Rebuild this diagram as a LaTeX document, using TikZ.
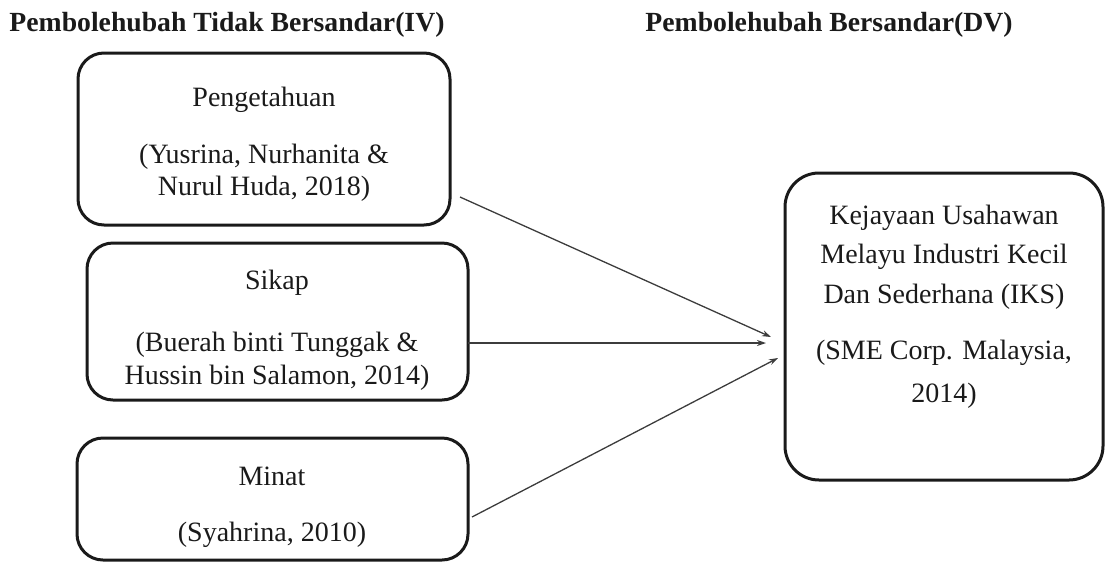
\documentclass[tikz,border=0pt]{standalone}
\usepackage{fontspec}
\setmainfont{Liberation Serif}
\usetikzlibrary{arrows.meta}
\definecolor{ink}{HTML}{1A1A1A}
\tikzset{
  box/.style={draw=ink, line width=3pt, rounded corners=26pt},
  txt/.style={inner sep=0pt, text=ink, font=\fontsize{28}{32}\selectfont},
  ttl/.style={inner sep=0pt, text=ink, font=\fontsize{27.7}{32}\selectfont\bfseries},
  conn/.style={draw=ink!85, line width=1.3pt, -{Stealth[length=9pt,width=6pt]}}
}
\begin{document}
\begin{tikzpicture}[x=1pt,y=-1pt]
\useasboundingbox (0,0) rectangle (1105,563);
% titles
\node[ttl] (t1) at (227,25) {Pembolehubah Tidak Bersandar(IV)};
\node[ttl] (t2) at (829,25) {Pembolehubah Bersandar(DV)};
% boxes
\draw[box] (78,53) rectangle (450,225);
\draw[box] (87,243) rectangle (468,400);
\coordinate (b2) at (468,343);
\draw[box] (77,438) rectangle (468,560);
\draw[box, rounded corners=34pt] (785,173) rectangle (1103,480);
% texts
\node[txt] (p1) at (264,100) {Pengetahuan};
\node[txt] (p2) at (264,157) {(Yusrina, Nurhanita \&};
\node[txt] (p3) at (264,189) {Nurul Huda, 2018)};
\node[txt] (s1) at (277,283) {Sikap};
\node[txt] (s2) at (277,345) {(Buerah binti Tunggak \&};
\node[txt] (s3) at (277,378) {Hussin bin Salamon, 2014)};
\node[txt] (m1) at (272,476) {Minat};
\node[txt] (m2) at (272,535) {(Syahrina, 2010)};
\node[txt] (k1) at (944,218) {Kejayaan Usahawan};
\node[txt] (k2) at (944,257) {Melayu Industri Kecil};
\node[txt] (k3) at (944,297) {Dan Sederhana (IKS)};
\node[txt] (k4) at (944,353) {(SME Corp. Malaysia,};
\node[txt] (k5) at (944,396) {2014)};
% connectors
\coordinate (a1s) at (460,197);
\coordinate (a1e) at (771,337);
\coordinate (a2e) at (766,343);
\coordinate (a3s) at (472,517);
\coordinate (a3e) at (778,358);
\draw[conn] (a1s) -- (a1e);
\draw[conn] (b2) -- (a2e);
\draw[conn] (a3s) -- (a3e);
\end{tikzpicture}
\end{document}
